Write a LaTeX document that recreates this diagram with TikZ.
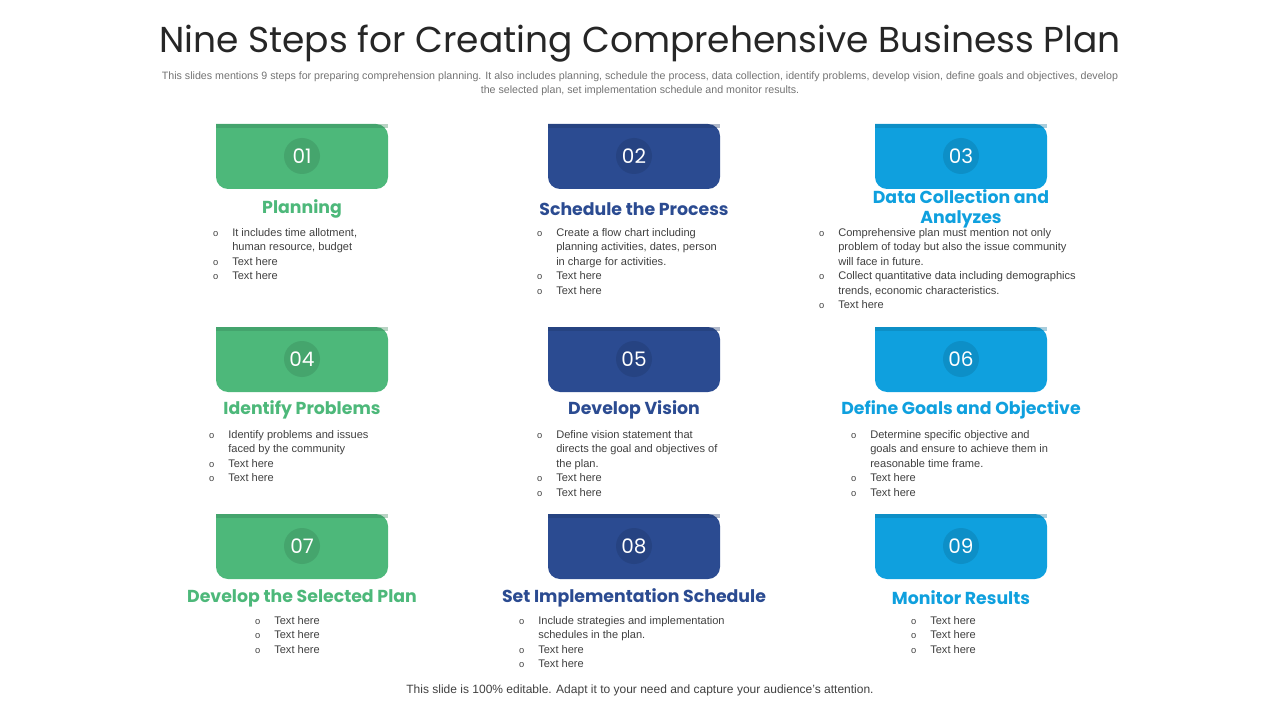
\documentclass[tikz,border=0pt]{standalone}
\usepackage{fontspec}
\setmainfont{Liberation Sans}
\newfontfamily\headfont{Poppins}
\usetikzlibrary{positioning}
\definecolor{stepgreen}{HTML}{4DB87A}
\definecolor{stepnavy}{HTML}{2B4B91}
\definecolor{stepblue}{HTML}{0FA0DE}
\definecolor{bodygray}{HTML}{404040}
\newcommand{\itm}{\leavevmode\llap{\fontsize{7}{9}\selectfont o\hspace{10.5pt}}}
\tikzset{
  numbox/.style={minimum width=129pt, minimum height=48pt, rounded corners=6pt},
  numtxt/.style={text=white, font=\headfont\fontsize{15}{15}\selectfont},
  headtxt/.style={font=\headfont\bfseries\fontsize{13}{15}\selectfont, align=center},
  bullets/.style={anchor=north west, align=left, text=bodygray, inner sep=0pt,
    font=\fontsize{8.3}{10.9}\selectfont}
}
\begin{document}
\begin{tikzpicture}[x=0.75pt,y=-0.75pt]
\useasboundingbox (0,0) rectangle (1280,720);
% title
\node[font=\headfont\fontsize{27}{30}\selectfont, text=black!85] (title) at (640,44) {Nine Steps for Creating Comprehensive Business Plan};
\node[font=\fontsize{8}{10.5}\selectfont, text=black!55, align=center] (sub) at (640,84)
  {This slides mentions 9 steps for preparing comprehension planning. It also includes planning, schedule the process, data collection, identify problems, develop vision, define goals and objectives, develop\\the selected plan, set implementation schedule and monitor results.};
% boxes
\foreach \x/\y/\c/\n in {302/124/stepgreen/01, 634/124/stepnavy/02, 961/124/stepblue/03,
                        302/327/stepgreen/04, 634/327/stepnavy/05, 961/327/stepblue/06,
                        302/514/stepgreen/07, 634/514/stepnavy/08, 961/514/stepblue/09}{
  \fill[\c, rounded corners=9pt] (\x-86,\y) -- (\x-86,\y+65) -- (\x+86,\y+65) -- (\x+86,\y) [sharp corners] -- cycle;
  \fill[\c!70!black, opacity=0.35] (\x-86,\y) rectangle (\x+86,\y+4);
  \fill[\c!80!black, opacity=0.5] (\x,\y+32) circle (18);
  \node[numtxt] (n\n) at (\x,\y+32) {\n};
}
% headings
\node[headtxt, text=stepgreen] (h1) at (302,209) {Planning};
\node[headtxt, text=stepnavy] (h2) at (634,209) {Schedule the Process};
\node[headtxt, text=stepblue] (h3) at (961,209) {Data Collection and\\Analyzes};
\node[headtxt, text=stepgreen] (h4) at (302,410) {Identify Problems};
\node[headtxt, text=stepnavy] (h5) at (634,410) {Develop Vision};
\node[headtxt, text=stepblue] (h6) at (961,410) {Define Goals and Objective};
\node[headtxt, text=stepgreen] (h7) at (302,598) {Develop the Selected Plan};
\node[headtxt, text=stepnavy] (h8) at (634,598) {Set Implementation Schedule};
\node[headtxt, text=stepblue] (h9) at (961,598) {Monitor Results};
% bullet lists
\node[bullets] (b1) at (232,228) {\itm It includes time allotment,\\human resource, budget\\\itm Text here\\\itm Text here};
\node[bullets] (b2) at (556,228) {\itm Create a flow chart including\\planning activities, dates, person\\in charge for activities.\\\itm Text here\\\itm Text here};
\node[bullets] (b3) at (838,228) {\itm Comprehensive plan must mention not only\\problem of today but also the issue community\\will face in future.\\\itm Collect quantitative data including demographics\\trends, economic characteristics.\\\itm Text here};
\node[bullets] (b4) at (228,430) {\itm Identify problems and issues\\faced by the community\\\itm Text here\\\itm Text here};
\node[bullets] (b5) at (556,430) {\itm Define vision statement that\\directs the goal and objectives of\\the plan.\\\itm Text here\\\itm Text here};
\node[bullets] (b6) at (870,430) {\itm Determine specific objective and\\goals and ensure to achieve them in\\reasonable time frame.\\\itm Text here\\\itm Text here};
\node[bullets] (b7) at (274,616) {\itm Text here\\\itm Text here\\\itm Text here};
\node[bullets] (b8) at (538,616) {\itm Include strategies and implementation\\schedules in the plan.\\\itm Text here\\\itm Text here};
\node[bullets] (b9) at (930,616) {\itm Text here\\\itm Text here\\\itm Text here};
% footer
\node[font=\fontsize{9}{11}\selectfont, text=black!75] (foot) at (640,690) {This slide is 100\% editable. Adapt it to your need and capture your audience’s attention.};
\end{tikzpicture}
\end{document}
